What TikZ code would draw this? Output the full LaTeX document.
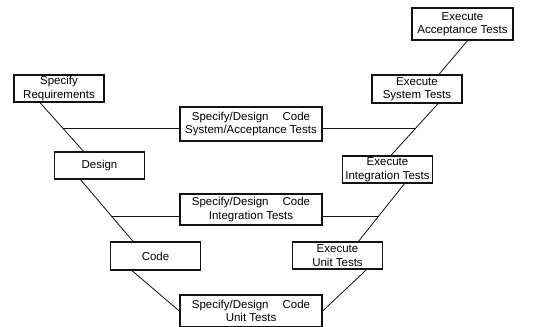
\documentclass[tikz,border=0pt]{standalone}
\usepackage{fontspec}
\setmainfont{Liberation Sans}
\begin{document}
\begin{tikzpicture}[x=1pt,y=-1pt,font=\fontsize{11.5}{13.5}\selectfont,
  box/.style={draw=ink,line width=1.3pt,align=center,inner sep=0pt,minimum width=90pt,minimum height=28pt},
  wide/.style={box,minimum width=142pt,minimum height=33pt},
  link/.style={draw=ink,line width=.8pt}]
\definecolor{ink}{HTML}{111111}
\useasboundingbox (0,0) rectangle (547,327);
% left leg
\node[box,minimum height=27pt] (req) at (59,88.5) {Specify\\Requirements};
\node[box,minimum height=27pt] (des) at (99.5,165.5) {Design};
\node[box] (cod) at (155.5,256) {Code};
% right leg
\node[box,minimum width=101pt,minimum height=32pt] (acc) at (462.5,24) {Execute\\Acceptance Tests};
\node[box] (sys) at (417,89) {Execute\\System Tests};
\node[box,minimum height=27pt] (int) at (387.5,169.5) {Execute\\Integration Tests};
\node[box,minimum height=27pt] (uni) at (337.5,255.5) {Execute\\Unit Tests};
% middle
\node[wide,minimum height=34pt] (sat) at (251,124) {Specify/Design\hspace{14pt}Code\\System/Acceptance Tests};
\node[wide,minimum height=31pt] (sit) at (251,209.5) {Specify/Design\hspace{14pt}Code\\Integration Tests};
\node[wide,minimum height=32pt] (sut) at (251,311) {Specify/Design\hspace{14pt}Code\\Unit Tests};
% the V
\draw[link] ([xshift=-19pt]req.south) -- ([xshift=-16pt]des.north);
\draw[link] ([xshift=-19pt]des.south) -- ([xshift=-22.5pt]cod.north);
\draw[link] ([xshift=-23.5pt]cod.south) -- (sut.west);
\draw[link] (sut.east) -- ([xshift=29pt]uni.south);
\draw[link] ([xshift=21pt]uni.north) -- ([xshift=17pt]int.south);
\draw[link] ([xshift=3.5pt]int.north) -- ([xshift=21pt]sys.south);
\draw[link] ([xshift=22pt]sys.north) -- ([xshift=5pt]acc.south);
% levels
\coordinate (satl) at (62.5,128);
\coordinate (satr) at (415.8,128);
\coordinate (sitl) at (111,216);
\coordinate (sitr) at (378.8,216);
\draw[link] (satl) -- ([yshift=-4pt]sat.west);
\draw[link] ([yshift=-4pt]sat.east) -- (satr);
\draw[link] (sitl) -- ([yshift=-6.5pt]sit.west);
\draw[link] ([yshift=-6.5pt]sit.east) -- (sitr);
\end{tikzpicture}
\end{document}
